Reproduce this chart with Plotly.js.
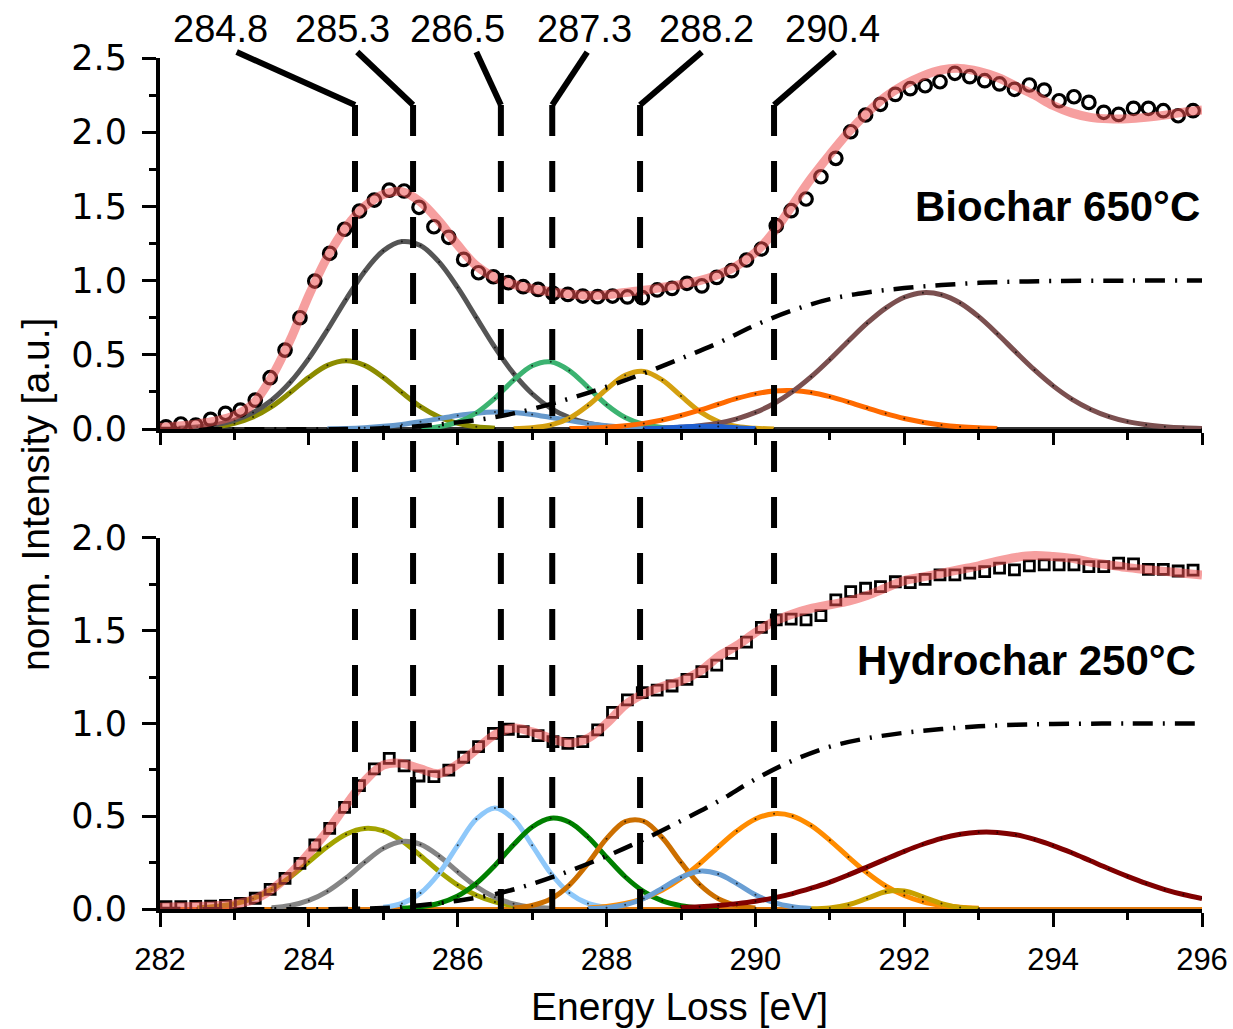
<!DOCTYPE html>
<html>
<head>
<meta charset="utf-8">
<script src="https://cdn.plot.ly/plotly-3.0.1.min.js"></script>
<style>html,body{margin:0;padding:0;background:#fff;}#chart{width:1233px;height:1029px;}</style>
</head>
<body>
<div id="chart"></div>
<script>
// ---------- measured data (energies in eV) ----------
const dataE = [282.08,282.28,282.48,282.68,282.88,283.08,283.28,283.48,283.68,283.88,
284.08,284.28,284.48,284.68,284.88,285.08,285.28,285.48,285.68,285.88,
286.08,286.28,286.48,286.68,286.88,287.08,287.28,287.48,287.68,287.88,
288.08,288.28,288.48,288.68,288.88,289.08,289.28,289.48,289.68,289.88,
290.08,290.28,290.48,290.68,290.88,291.08,291.28,291.48,291.68,291.88,
292.08,292.28,292.48,292.68,292.88,293.08,293.28,293.48,293.68,293.88,
294.08,294.28,294.48,294.68,294.88,295.08,295.28,295.48,295.68,295.88];

const biocharData = [0.015,0.034,0.027,0.065,0.106,0.128,0.195,0.346,0.532,0.75,
0.997,1.184,1.346,1.469,1.543,1.61,1.604,1.494,1.363,1.292,
1.143,1.053,1.026,0.986,0.959,0.941,0.914,0.907,0.896,0.892,
0.896,0.89,0.885,0.937,0.948,0.982,0.964,1.022,1.067,1.139,
1.213,1.37,1.471,1.55,1.70,1.824,2.003,2.116,2.188,2.255,
2.293,2.313,2.34,2.397,2.374,2.347,2.325,2.289,2.318,2.284,
2.212,2.239,2.201,2.134,2.12,2.161,2.161,2.145,2.111,2.145];

const hydrocharData = [0.012,0.012,0.014,0.016,0.02,0.03,0.058,0.106,0.165,0.246,
0.345,0.435,0.548,0.665,0.755,0.812,0.771,0.717,0.713,0.749,
0.818,0.875,0.947,0.969,0.956,0.934,0.902,0.893,0.902,0.965,
1.06,1.127,1.166,1.18,1.202,1.238,1.279,1.315,1.378,1.438,
1.518,1.558,1.563,1.558,1.581,1.666,1.711,1.729,1.738,1.764,
1.759,1.777,1.801,1.801,1.81,1.818,1.837,1.828,1.849,1.855,
1.855,1.855,1.845,1.845,1.864,1.86,1.831,1.831,1.822,1.827];

// ---------- fit / component grid ----------
const gridE = [282,282.25,282.5,282.75,283,283.25,283.5,283.75,284,284.25,284.5,284.75,
285,285.25,285.5,285.75,286,286.25,286.5,286.75,287,287.25,287.5,287.75,
288,288.25,288.5,288.75,289,289.25,289.5,289.75,290,290.25,290.5,290.75,
291,291.25,291.5,291.75,292,292.25,292.5,292.75,293,293.25,293.5,293.75,
294,294.25,294.5,294.75,295,295.25,295.5,295.75,296];

const biocharFit = [0.01,0.02,0.035,0.055,0.09,0.17,0.35,0.6,0.9,1.16,1.36,1.5,
1.58,1.6,1.53,1.4,1.24,1.1,1.02,0.975,0.945,0.925,0.91,0.9,
0.905,0.92,0.935,0.955,0.975,1.0,1.04,1.1,1.19,1.33,1.51,1.69,
1.85,2.0,2.13,2.24,2.32,2.38,2.42,2.43,2.41,2.37,2.31,2.25,
2.18,2.13,2.1,2.09,2.09,2.1,2.115,2.135,2.15];

const hydrocharFit = [0.01,0.012,0.014,0.018,0.027,0.05,0.105,0.19,0.3,0.42,0.56,0.69,
0.775,0.785,0.755,0.73,0.78,0.86,0.94,0.975,0.955,0.92,0.895,0.92,
1.0,1.1,1.16,1.2,1.23,1.28,1.36,1.42,1.49,1.55,1.59,1.62,
1.64,1.66,1.69,1.73,1.77,1.79,1.81,1.83,1.85,1.875,1.895,1.905,
1.9,1.89,1.87,1.855,1.84,1.83,1.82,1.81,1.8];

// background step (arctan edge)
const stepE = [282,284.5,285,285.5,286,286.5,287,287.5,288,288.5,289,289.5,290,290.5,291,291.5,292,292.5,293,293.5,294,295,296];
const stepV = [0,0,0.005,0.02,0.045,0.08,0.135,0.205,0.285,0.375,0.475,0.58,0.70,0.80,0.875,0.92,0.95,0.97,0.985,0.993,0.997,1.0,1.0];

// components: start energy + values on the 0.25 eV grid
const biocharStart = [282.5, 282.25, 284.25, 285.5, 286.75, 287.5, 288.5, 288.5];
const biocharComp = [
 [0.005,0.015,0.038,0.081,0.151,0.246,0.348,0.429,0.46,0.429,0.348,0.246,0.151,0.081,0.038,0.015,0.005],
 [0.006,0.014,0.029,0.059,0.111,0.194,0.315,0.476,0.669,0.874,1.062,1.201,1.263,1.236,1.125,0.953,0.751,0.55,0.375,0.238,0.14,0.077,0.039,0.019,0.008,0.003],
 [0.002,0.004,0.009,0.018,0.031,0.049,0.07,0.091,0.107,0.115,0.111,0.098,0.078,0.057,0.037,0.022,0.012,0.006,0.003],
 [0.005,0.016,0.046,0.108,0.208,0.329,0.427,0.453,0.394,0.281,0.164,0.078,0.031,0.01,0.003],
 [0.002,0.008,0.027,0.073,0.158,0.268,0.362,0.388,0.33,0.223,0.119,0.051,0.017,0.005,0.001],
 [0.003,0.006,0.012,0.022,0.038,0.061,0.091,0.127,0.167,0.206,0.237,0.256,0.259,0.246,0.218,0.182,0.142,0.104,0.071,0.046,0.027,0.015,0.008,0.004],
 [0.003,0.006,0.012,0.023,0.04,0.069,0.112,0.172,0.253,0.353,0.469,0.593,0.713,0.815,0.888,0.919,0.905,0.849,0.757,0.642,0.518,0.398,0.291,0.202,0.134,0.084,0.05,0.029,0.016,0.008,0.004],
 [0.002,0.006,0.013,0.019,0.017,0.009,0.003]
];

const hydrocharStart = [282.5, 283.5, 285.0, 285.25, 286.75, 287.75, 287.75, 290.75, 289.0];
const hydrocharComp = [
 [0.005,0.013,0.028,0.057,0.105,0.172,0.254,0.337,0.403,0.434,0.421,0.367,0.288,0.203,0.129,0.074,0.038,0.018,0.007,0.003],
 [0.007,0.019,0.046,0.095,0.167,0.252,0.327,0.364,0.348,0.285,0.201,0.121,0.063,0.028,0.011,0.004],
 [0.009,0.03,0.086,0.193,0.343,0.485,0.545,0.485,0.343,0.193,0.086,0.03,0.009],
 [0.004,0.012,0.031,0.07,0.138,0.235,0.346,0.442,0.489,0.468,0.388,0.279,0.174,0.094,0.044,0.018,0.006,0.002],
 [0.005,0.019,0.054,0.129,0.246,0.379,0.471,0.473,0.384,0.251,0.132,0.056,0.019,0.005],
 [0.006,0.014,0.03,0.058,0.102,0.164,0.244,0.334,0.42,0.485,0.514,0.501,0.449,0.37,0.28,0.195,0.124,0.073,0.039,0.02,0.009,0.004],
 [0.002,0.007,0.023,0.057,0.112,0.171,0.204,0.189,0.137,0.077,0.034,0.012,0.003],
 [0.001,0.006,0.023,0.057,0.093,0.097,0.065,0.029,0.008,0.002],
 [0.008,0.012,0.019,0.029,0.042,0.06,0.083,0.112,0.145,0.184,0.226,0.269,0.311,0.349,0.381,0.403,0.414,0.413,0.4,0.375,0.342,0.303,0.26,0.217,0.176,0.138,0.105,0.078,0.056]
];

const baselineE = [282, 296];
const baselineV = [0, 0];

// peak markers
const peakPos = [284.62, 285.40, 286.58, 287.27, 288.45, 290.25];
const peakLabels = ['284.8', '285.3', '286.5', '287.3', '288.2', '290.4'];
const xTickVals = [282, 284, 286, 288, 290, 292, 294, 296];

// ---------- styles / placement ----------
const biocharColors = ['#8c8c00', '#555555', '#6699cc', '#3cb371', '#d4a010', '#ff6a00', '#7b5050', '#1f5fd0'];
const hydrocharColors = ['#a3a300', '#858585', '#8ec8fa', '#008000', '#cc6f00', '#ff8c00', '#6a9fd4', '#c8a000', '#800000'];
const labelX = [282.81, 284.45, 286.0, 287.71, 289.34, 291.03];
const leaderX = [283.03, 284.65, 286.25, 287.74, 289.28, 291.07];
const sansFont = 'Liberation Sans, Arial, sans-serif';

function gridSlice(start, n) {
  const i0 = gridE.indexOf(start);
  return gridE.slice(i0, i0 + n);
}

const traces = [];
function addPanel(xa, ya, starts, comps, colors, baseColor, data, fit, sym, msize, mlw) {
  traces.push({x: baselineE, y: baselineV, xaxis: xa, yaxis: ya, mode: 'lines',
    line: {color: baseColor, width: 4}, hoverinfo: 'skip', showlegend: false});
  comps.forEach((vals, k) => {
    traces.push({x: gridSlice(starts[k], vals.length), y: vals, xaxis: xa, yaxis: ya,
      mode: 'lines+markers', line: {color: colors[k], width: 5, shape: 'spline'},
      marker: {size: 2, color: 'rgba(0,0,0,0.7)'}, showlegend: false});
  });
  traces.push({x: stepE, y: stepV, xaxis: xa, yaxis: ya, mode: 'lines',
    line: {color: 'black', width: 4.5, dash: '20px,10px,2px,10px', shape: 'spline'}, showlegend: false});
  traces.push({x: dataE, y: data, xaxis: xa, yaxis: ya, mode: 'markers',
    marker: {symbol: sym, size: msize, color: 'black', line: {color: 'black', width: mlw}}, showlegend: false});
  traces.push({x: gridE, y: fit, xaxis: xa, yaxis: ya, mode: 'lines',
    line: {color: 'rgba(238,80,80,0.55)', width: 9, shape: 'spline'}, showlegend: false});
}
addPanel('x', 'y', biocharStart, biocharComp, biocharColors, '#333333', biocharData, biocharFit, 'circle-open', 12.5, 3.2);
addPanel('x2', 'y2', hydrocharStart, hydrocharComp, hydrocharColors, '#e07a10', hydrocharData, hydrocharFit, 'square-open', 10, 2.8);

const shapes = [];
const annotations = [];
peakPos.forEach((p, i) => {
  shapes.push({type: 'line', xref: 'x', yref: 'paper', x0: p, x1: p, y0: 0.9448, y1: 0,
    line: {color: 'black', width: 6, dash: '31px,25px'}});
  shapes.push({type: 'line', xref: 'x', yref: 'paper', x0: leaderX[i], x1: p, y0: 1.007, y1: 0.9448,
    line: {color: 'black', width: 6}});
  annotations.push({text: peakLabels[i], xref: 'x', yref: 'paper', x: labelX[i], y: 1.034,
    showarrow: false, xanchor: 'center', yanchor: 'middle',
    font: {family: sansFont, size: 38, color: 'black'}});
});
annotations.push({text: '<b>Biochar 650°C</b>', xref: 'x', yref: 'y', x: 296, y: 1.5, xanchor: 'right', yanchor: 'middle',
  showarrow: false, font: {family: sansFont, size: 42, color: 'black'}});
annotations.push({text: '<b>Hydrochar 250°C</b>', xref: 'x2', yref: 'y2', x: 295.95, y: 1.34, xanchor: 'right', yanchor: 'middle',
  showarrow: false, font: {family: sansFont, size: 42, color: 'black'}});
annotations.push({text: 'norm. Intensity [a.u.]', xref: 'paper', yref: 'paper', x: -0.119, y: 0.4865, textangle: -90,
  xanchor: 'center', yanchor: 'middle', showarrow: false,
  font: {family: sansFont, size: 39, color: 'black'}});
annotations.push({text: 'Energy Loss [eV]', xref: 'paper', yref: 'paper', x: 0.499, y: -0.115,
  xanchor: 'center', yanchor: 'middle', showarrow: false,
  font: {family: sansFont, size: 39, color: 'black'}});

const axisCommon = {showline: true, linecolor: 'black', linewidth: 4, showgrid: false, zeroline: false,
  ticks: 'outside', tickcolor: 'black', tickwidth: 3};
const layout = {
  width: 1233, height: 1029,
  margin: {l: 160, r: 31, t: 58, b: 120},
  paper_bgcolor: 'white', plot_bgcolor: 'white',
  showlegend: false,
  xaxis: Object.assign({}, axisCommon, {domain: [0, 1], anchor: 'y', range: [282, 296], matches: 'x2',
    tickvals: xTickVals, showticklabels: false, ticklen: 12,
    minor: {dtick: 1, tick0: 282, ticks: 'outside', ticklen: 7, tickwidth: 3, tickcolor: 'black'}}),
  xaxis2: Object.assign({}, axisCommon, {domain: [0, 1], anchor: 'y2', range: [282, 296],
    tickvals: xTickVals, ticklen: 14, ticklabelstandoff: 6,
    tickfont: {family: sansFont, size: 31, color: 'black'},
    minor: {dtick: 1, tick0: 282, ticks: 'outside', ticklen: 7, tickwidth: 3, tickcolor: 'black'}}),
  yaxis: Object.assign({}, axisCommon, {domain: [0.564, 1], anchor: 'x', range: [0, 2.5],
    dtick: 0.5, tick0: 0, tickformat: '.1f', ticklen: 14, ticklabelstandoff: 8,
    tickfont: {family: 'DejaVu Sans, sans-serif', size: 35, color: 'black'},
    minor: {dtick: 0.25, ticks: 'outside', ticklen: 7, tickwidth: 3, tickcolor: 'black'}}),
  yaxis2: Object.assign({}, axisCommon, {domain: [0, 0.436], anchor: 'x2', range: [0, 2.0],
    dtick: 0.5, tick0: 0, tickformat: '.1f', ticklen: 14, ticklabelstandoff: 8,
    tickfont: {family: 'DejaVu Sans, sans-serif', size: 35, color: 'black'},
    minor: {dtick: 0.25, ticks: 'outside', ticklen: 7, tickwidth: 3, tickcolor: 'black'}}),
  shapes: shapes,
  annotations: annotations
};

Plotly.newPlot('chart', traces, layout, {staticPlot: true, displayModeBar: false});
</script>
</body>
</html>
